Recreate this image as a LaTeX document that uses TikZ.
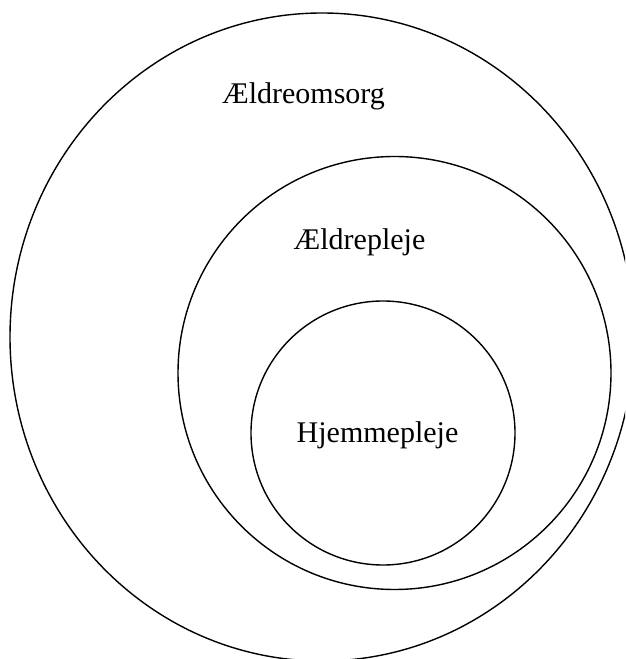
\documentclass[tikz,border=0pt]{standalone}
\usepackage{fontspec}
\setmainfont{Liberation Serif}
\usetikzlibrary{shapes.geometric}
\begin{document}
\begin{tikzpicture}[x=1pt,y=1pt,
  ring/.style={draw=black,line width=1.4pt,inner sep=0pt,outer sep=0pt},
  lbl/.style={anchor=base,inner sep=0pt,font=\fontsize{30}{36}\selectfont}]
\clip (0,0) rectangle (625,659);
\node[ring,ellipse,minimum width=624pt,minimum height=648pt] (outer) at (322,322) {};
\node[ring,circle,minimum size=433pt] (middle) at (394.5,286) {};
\node[ring,circle,minimum size=264pt] (inner) at (383,226) {};
\node[lbl] (t1) at (303.5,555) {Ældreomsorg};
\node[lbl] (t2) at (359.5,409) {Ældrepleje};
\node[lbl] (t3) at (377.5,216) {Hjemmepleje};
\end{tikzpicture}
\end{document}
